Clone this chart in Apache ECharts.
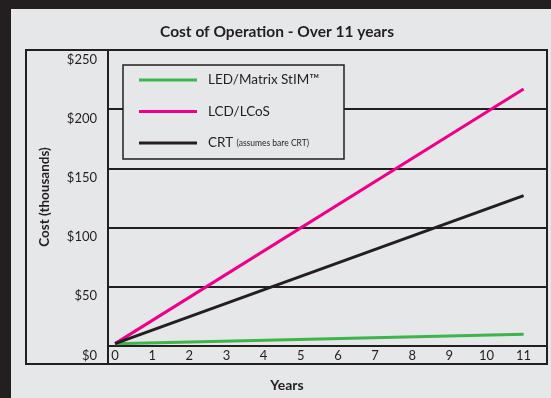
<!DOCTYPE html>
<html>
<head>
<meta charset="utf-8">
<script src="https://cdn.jsdelivr.net/npm/echarts@6/dist/echarts.min.js"></script>
<style>
  html, body { margin: 0; padding: 0; background: #231f20; }
  #main { width: 551px; height: 398px; }
</style>
</head>
<body>
<div id="main"></div>
<script>
var years = [0, 11];
var ledCost = [2, 10];
var lcdCost = [2, 217];
var crtCost = [2, 127];
var seriesNames = ['LED/Matrix StIM™', 'LCD/LCoS', 'CRT'];
var yearTicks = [0, 1, 2, 3, 4, 5, 6, 7, 8, 9, 10, 11];

var ink = '#231f20';
var font = 'Lato';

function pairs(xs, ys) {
  return xs.map(function (x, i) { return [x, ys[i]]; });
}

var chart = echarts.init(document.getElementById('main'), null, { renderer: 'canvas' });

var option = {
  backgroundColor: ink,
  animation: false,
  textStyle: { fontFamily: font, color: ink },
  title: {
    text: 'Cost of Operation - Over 11 years',
    left: 272,
    top: 19,
    textAlign: 'center',
    textStyle: { fontFamily: font, fontSize: 15.5, fontWeight: 'bold', color: ink }
  },
  grid: { left: 108, right: 4, top: 50, bottom: 52 },
  xAxis: {
    type: 'value',
    min: -0.19,
    max: 11.63,
    axisLine: { show: true, lineStyle: { color: ink, width: 2 } },
    axisTick: { show: false },
    splitLine: { show: false },
    axisLabel: {
      customValues: yearTicks,
      color: ink,
      fontFamily: font,
      fontSize: 13,
      margin: 3
    }
  },
  yAxis: {
    type: 'value',
    min: 0,
    max: 250,
    interval: 50,
    axisLine: { show: false },
    axisTick: { show: false },
    splitLine: { show: true, lineStyle: { color: ink, width: 2 } },
    axisLabel: {
      formatter: '${value}',
      color: ink,
      fontFamily: font,
      fontSize: 13,
      margin: 11,
      verticalAlign: 'top',
      padding: [3, 0, 0, 0]
    }
  },
  legend: {
    orient: 'vertical',
    left: 139,
    top: 72,
    z: 5,
    icon: 'rect',
    itemWidth: 58,
    itemHeight: 3,
    itemGap: 15.5,
    padding: 0,
    data: seriesNames,
    formatter: function (name) {
      return name === 'CRT' ? 'CRT {s|(assumes bare CRT)}' : name;
    },
    textStyle: {
      fontFamily: font,
      fontSize: 13.5,
      color: ink,
      lineHeight: 16,
      padding: [0, 0, 0, 6],
      rich: { s: { fontSize: 8.5, fontFamily: font, color: ink } }
    }
  },
  graphic: [
    { type: 'rect', z: -10, silent: true, shape: { x: 11, y: 9, width: 540, height: 389 }, style: { fill: '#e6e7e8' } },
    { type: 'rect', z: 10, silent: true, shape: { x: 26, y: 50, width: 521, height: 314 }, style: { fill: 'none', stroke: ink, lineWidth: 2 } },
    { type: 'line', z: 10, silent: true, shape: { x1: 108, y1: 50, x2: 108, y2: 364 }, style: { stroke: ink, lineWidth: 2 } },
    { type: 'rect', z: 4, silent: true, shape: { x: 123, y: 65, width: 221, height: 94 }, style: { fill: '#e6e7e8', stroke: ink, lineWidth: 1.5 } },
    { type: 'text', z: 10, silent: true, x: 45, y: 197, rotation: Math.PI / 2,
      style: { text: 'Cost (thousands)', fontFamily: font, fontSize: 13.5, fontWeight: 'bold', fill: ink, align: 'center', verticalAlign: 'middle' } },
    { type: 'text', z: 10, silent: true, x: 287, y: 385,
      style: { text: 'Years', fontFamily: font, fontSize: 14, fontWeight: 'bold', fill: ink, align: 'center', verticalAlign: 'middle' } }
  ],
  series: [
    { name: seriesNames[0], type: 'line', symbol: 'none', z: 3, data: pairs(years, ledCost), lineStyle: { color: '#3db54a', width: 3 }, itemStyle: { color: '#3db54a' } },
    { name: seriesNames[1], type: 'line', symbol: 'none', z: 3, data: pairs(years, lcdCost), lineStyle: { color: '#ec008c', width: 3 }, itemStyle: { color: '#ec008c' } },
    { name: seriesNames[2], type: 'line', symbol: 'none', z: 3, data: pairs(years, crtCost), lineStyle: { color: ink, width: 3 }, itemStyle: { color: ink } }
  ]
};

chart.setOption(option);
</script>
</body>
</html>
